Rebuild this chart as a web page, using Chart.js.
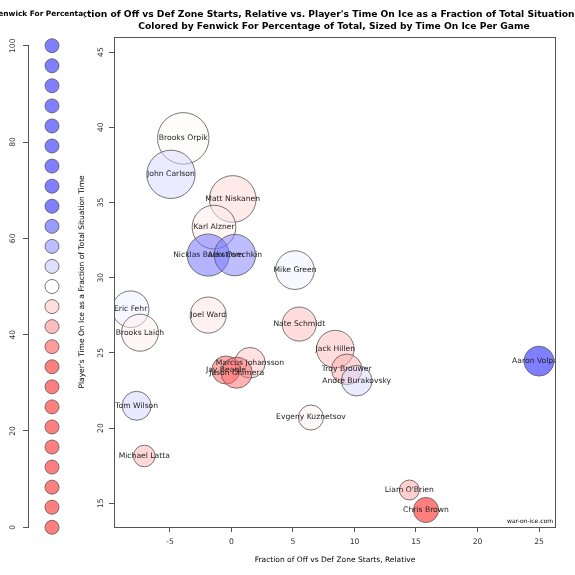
<!DOCTYPE html>
<html><head><meta charset="utf-8">
<script src="https://cdn.jsdelivr.net/npm/chart.js@4.4.0/dist/chart.umd.min.js"></script>
<style>
html,body{margin:0;padding:0;background:#fff;overflow:hidden;width:575px;height:575px;}
#wrap{position:relative;width:575px;height:575px;font-family:'DejaVu Sans',sans-serif;color:#000;}
canvas{position:absolute;}
.t{position:absolute;white-space:nowrap;line-height:1;font-family:'DejaVu Sans',sans-serif;}
</style></head><body>
<div id="wrap">
<canvas id="main" width="575" height="575" style="left:0;top:0;width:575px;height:575px"></canvas>
<canvas id="leg" width="76" height="575" style="left:0;top:0;width:76px;height:575px"></canvas>
<div style="position:absolute;left:85px;top:0;width:490px;height:32px;overflow:hidden;">
  <div id="title1" class="t" style="font-weight:bold;"></div>
</div>
<div id="title2" class="t" style="font-weight:bold;"></div>
<div style="position:absolute;left:0;top:0;width:85px;height:24px;overflow:hidden;">
  <div id="legTitle" class="t" style="font-weight:bold"></div>
</div>
<div id="xTitle" class="t"></div>
<div id="yTitle" class="t"></div>
<div id="wm" class="t"></div>
</div>
<script>
// ---------------- DATA ----------------
const players = ["Brooks Orpik","John Carlson","Matt Niskanen","Karl Alzner","Nicklas Backstrom","Alex Ovechkin",
  "Mike Green","Eric Fehr","Brooks Laich","Joel Ward","Nate Schmidt","Jack Hillen","Troy Brouwer","Andre Burakovsky",
  "Aaron Volpatti","Marcus Johansson","Jay Beagle","Jason Chimera","Tom Wilson","Evgeny Kuznetsov","Michael Latta",
  "Liam O'Brien","Chris Brown"];
const zoneStartRel = [-3.92,-4.92,0.10,-1.42,-1.89,0.28,5.16,-8.20,-7.44,-1.89,5.51,8.44,9.37,10.18,
  25.0,1.50,-0.45,0.42,-7.71,6.46,-7.09,14.46,15.81];
const toiFraction = [39.26,36.87,35.23,33.36,31.50,31.50,30.50,27.90,26.34,27.51,26.91,25.25,23.90,23.15,
  24.45,24.34,23.86,23.68,21.48,20.70,18.14,15.88,14.55];
const toiPerGame = [22.4,21.0,20.3,19.0,18.3,18.0,16.8,15.9,16.1,15.7,14.8,16.3,13.3,13.3,
  13.0,13.3,12.2,13.5,12.6,10.9,9.4,8.7,10.9];
const ffPct = [49.6,52.5,47.3,48.8,59.5,58.2,50.8,51.0,49.0,48.3,45.8,45.8,44.8,52.5,
  68,46.3,39.5,40.5,52.9,49.2,45.3,44.0,32];
const xTickValues = [-5,0,5,10,15,20,25];
const yTickValues = [15,20,25,30,35,40,45];
const yTickLabels = ["15","20","25","30","35","40","45"];
const legendValues = [0,4.17,8.33,12.5,16.67,20.83,25,29.17,33.33,37.5,41.67,45.83,50,
  54.17,58.33,62.5,66.67,70.83,75,79.17,83.33,87.5,91.67,95.83,100];
const legendTickValues = [0,20,40,60,80,100];
const legendTickLabels = ["0","20","40","60","80","100"];
const titleLine1 = "Fraction of Off vs Def Zone Starts, Relative vs. Player's Time On Ice as a Fraction of Total Situation Time";
const titleLine2 = "Colored by Fenwick For Percentage of Total, Sized by Time On Ice Per Game";
const legendTitle = "Fenwick For Percentage";
const xTitle = "Fraction of Off vs Def Zone Starts, Relative";
const yTitle = "Player's Time On Ice as a Fraction of Total Situation Time";
const watermark = "war-on-ice.com";

// ---------------- STYLE ----------------
const FAM = "'DejaVu Sans'";
const mctx = document.createElement('canvas').getContext('2d');
function fitSize(text, target, bold){
  mctx.font = (bold?'bold ':'') + '10px ' + FAM;
  return 10*target/mctx.measureText(text).width;
}
const titleSize = fitSize(titleLine2, 392, true);
const legTitleSize = fitSize(legendTitle, 100, true);
const axisTitleSize = fitSize(xTitle, 161, false);
const labelSize = fitSize("Brooks Orpik", 49, false);
const wmSize = fitSize(watermark, 46, false);
const tickSize = labelSize;
const R_SCALE = 1.15;
const LEG_R = 7;

function ffColor(v){
  const t = Math.max(-1, Math.min(1, (v-50)/16));
  let r,g,b;
  if (t<0){ r=255; g=b=Math.round(255*(1+t)); } else { r=g=Math.round(255*(1-t)); b=255; }
  return `rgba(${r},${g},${b},0.5)`;
}

function place(id, text, size, cx, cy, rot){
  const el = document.getElementById(id);
  el.textContent = text;
  el.style.fontSize = size + 'px';
  el.style.left = cx + 'px';
  el.style.top = cy + 'px';
  el.style.transform = 'translate(-50%,-50%)' + (rot ? ' rotate(' + rot + 'deg)' : '');
}
place('title1', titleLine1, titleSize, 334-85, 14);
place('title2', titleLine2, titleSize, 334, 25.5);
place('legTitle', legendTitle, legTitleSize, 43.5, 14);
place('xTitle', xTitle, axisTitleSize, 335, 560);
place('yTitle', yTitle, axisTitleSize, 82, 282, -90);
{
  const el = document.getElementById('wm');
  el.textContent = watermark; el.style.fontSize = wmSize+'px';
  el.style.left = '553px'; el.style.top = '521px';
  el.style.transform = 'translate(-100%,-50%)';
}

const boxPlugin = {
  id:'box',
  afterDraw(chart){
    const a = chart.chartArea, ctx = chart.ctx;
    ctx.save(); ctx.strokeStyle = '#555'; ctx.lineWidth = 1;
    ctx.strokeRect(Math.round(a.left)+0.5, Math.round(a.top)+0.5, Math.round(a.right-a.left), Math.round(a.bottom-a.top));
    ctx.restore();
  }
};
function rotTickPlugin(values, labels, xPos){
  return {
    id:'rotticks',
    afterDraw(chart){
      const s = chart.scales.y, ctx = chart.ctx;
      ctx.save(); ctx.font = tickSize + 'px ' + FAM; ctx.fillStyle = '#333';
      ctx.textAlign = 'center'; ctx.textBaseline = 'middle';
      values.forEach((v,i)=>{
        const py = s.getPixelForValue(v);
        ctx.save(); ctx.translate(xPos, py); ctx.rotate(-Math.PI/2); ctx.fillText(labels[i],0,0); ctx.restore();
      });
      ctx.restore();
    }
  };
}
const labelPlugin = {
  id:'labels',
  afterDatasetsDraw(chart){
    const a = chart.chartArea, ctx = chart.ctx;
    const meta = chart.getDatasetMeta(0);
    ctx.save();
    ctx.beginPath(); ctx.rect(a.left, a.top, a.right-a.left, a.bottom-a.top); ctx.clip();
    ctx.font = labelSize + 'px ' + FAM; ctx.fillStyle = '#222';
    ctx.textAlign = 'center'; ctx.textBaseline = 'middle';
    meta.data.forEach((el,i)=>{ ctx.fillText(players[i], el.x, el.y); });
    ctx.restore();
  }
};

// X/Y limits (axis ranges of the plot region)
const X_MIN = -9.55, X_MAX = 26.3, Y_MIN = 13.42, Y_MAX = 46.0;

new Chart(document.getElementById('main'), {
  type:'bubble',
  data:{datasets:[{
    data: players.map((p,i)=>({x:zoneStartRel[i], y:toiFraction[i], r:toiPerGame[i]*R_SCALE})),
    backgroundColor: ffPct.map(ffColor),
    borderColor:'#555', borderWidth:0.8
  }]},
  options:{
    responsive:false, animation:false, events:[], devicePixelRatio:1,
    layout:{autoPadding:false, padding:{left:0,right:20,top:37,bottom:0}},
    plugins:{legend:{display:false}, tooltip:{enabled:false}},
    elements:{point:{hoverRadius:0}},
    scales:{
      x:{type:'linear', min:X_MIN, max:X_MAX,
        afterFit(s){ s.height = 48; },
        afterBuildTicks(s){ s.ticks = xTickValues.map(v=>({value:v})); },
        ticks:{font:{family:FAM,size:tickSize}, color:'#333', padding:5, maxRotation:0, minRotation:0, autoSkip:false},
        grid:{drawOnChartArea:false, drawTicks:true, tickLength:5, color:'#555'},
        border:{display:true, color:'#555'}},
      y:{type:'linear', min:Y_MIN, max:Y_MAX,
        afterFit(s){ s.width = 114; },
        afterBuildTicks(s){ s.ticks = yTickValues.map(v=>({value:v})); },
        ticks:{display:false},
        grid:{drawOnChartArea:false, drawTicks:true, tickLength:5, color:'#555'},
        border:{display:true, color:'#555'}}
    }
  },
  plugins:[boxPlugin, labelPlugin, rotTickPlugin(yTickValues, yTickLabels, 101)]
});

new Chart(document.getElementById('leg'), {
  type:'bubble',
  data:{datasets:[{
    data: legendValues.map(v=>({x:0, y:v, r:LEG_R})),
    backgroundColor: legendValues.map(ffColor),
    borderColor:'#555', borderWidth:0.8, clip:false
  }]},
  options:{
    responsive:false, animation:false, events:[], devicePixelRatio:1,
    layout:{autoPadding:false, padding:{left:0,right:0,top:45.7,bottom:575-527.3}},
    plugins:{legend:{display:false}, tooltip:{enabled:false}},
    scales:{
      x:{type:'linear', min:-1, max:1, display:false},
      y:{type:'linear', min:0, max:100,
        afterFit(s){ s.width = 28; },
        afterBuildTicks(s){ s.ticks = legendTickValues.map(v=>({value:v})); },
        ticks:{display:false},
        grid:{drawOnChartArea:false, drawTicks:true, tickLength:5, color:'#555'},
        border:{display:true, color:'#555'}}
    }
  },
  plugins:[rotTickPlugin(legendTickValues, legendTickLabels, 13.5)]
});
</script>
</body></html>
